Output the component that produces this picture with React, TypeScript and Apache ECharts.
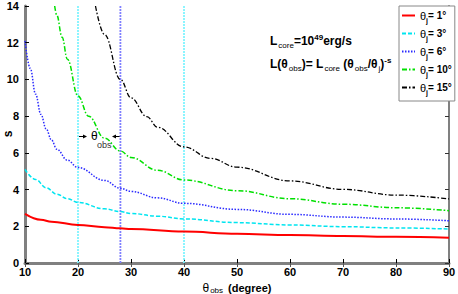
import React, { useEffect, useRef } from 'react';
import * as echarts from 'echarts';

// ---- data ----
const jetAngles = [1, 3, 6, 10, 15];

const redX = [10, 13, 15, 20, 25, 28, 30, 40, 50, 60, 70, 80, 90];
const redY = [2.68, 2.36, 2.25, 2.07, 1.95, 1.89, 1.85, 1.71, 1.59, 1.52, 1.47, 1.43, 1.38];

const cyanX = [10, 12, 14, 16, 18, 20, 25, 28, 30, 35, 40, 50, 60, 70, 80, 90];
const cyanY = [5.1, 4.55, 4.1, 3.75, 3.5, 3.3, 2.95, 2.8, 2.7, 2.55, 2.4, 2.2, 2.07, 1.98, 1.91, 1.85];

const blueX = [10, 11, 12, 13, 14, 15, 16, 18, 20, 25, 28, 30, 35, 40, 50, 60, 70, 80, 90];
const blueY = [12.1, 10.6, 9.2, 8.1, 7.3, 6.7, 6.2, 5.6, 5.2, 4.5, 4.07, 3.9, 3.55, 3.25, 2.92, 2.65, 2.5, 2.4, 2.3];

const greenX = [15.6, 16, 17, 18, 20, 22, 25, 28, 30, 35, 40, 50, 60, 70, 80, 90];
const greenY = [14, 13.5, 12.3, 11.1, 9.1, 8.0, 6.8, 6.1, 5.75, 5.05, 4.52, 3.94, 3.5, 3.2, 3.01, 2.85];

const blackX = [23.3, 25, 28, 30, 33, 35, 40, 45, 50, 60, 70, 80, 90];
const blackY = [14, 12.45, 10.0, 9.0, 7.97, 7.4, 6.33, 5.7, 5.22, 4.47, 4.01, 3.7, 3.49];

const markerLinesX = [20, 28, 40];
const markerColors = ['#80f4ff', '#8080ff', '#80f4ff'];

const yAxisTitle = 's';

const FONT = 'Liberation Sans, Arial, sans-serif';

const zip = (xs: number[], ys: number[]) => xs.map((x, i) => [x, ys[i]]);

const seriesDefs = [
  { x: redX, y: redY, color: '#ff0000', type: 'solid' as any, width: 2 },
  { x: cyanX, y: cyanY, color: '#00e5f0', type: [4, 2] as any, width: 1.5 },
  { x: blueX, y: blueY, color: '#2a2aff', type: [1.5, 1.5] as any, width: 1.5 },
  { x: greenX, y: greenY, color: '#00e000', type: [5, 2, 1.5, 2] as any, width: 1.5 },
  { x: blackX, y: blackY, color: '#000000', type: [5, 2, 1.5, 2] as any, width: 1.3 },
];

export default function App() {
  const ref = useRef<HTMLDivElement>(null);
  useEffect(() => {
    const chart = echarts.init(ref.current!, undefined, { renderer: 'svg' });
    const names = jetAngles.map((a) => `θj= ${a}°`);
    const lineSeries = seriesDefs.map((d, i) => ({
      name: names[i],
      type: 'line',
      data: zip(d.x, d.y),
      showSymbol: false,
      symbol: 'none',
      smooth: 0.4,
      smoothMonotone: 'x',
      lineStyle: { color: d.color, width: d.width, type: d.type },
      itemStyle: { color: d.color },
      z: 3,
    }));
    const vSeries = markerLinesX.map((x, i) => ({
      name: 'v' + i,
      type: 'line',
      data: [[x, 0], [x, 14]],
      showSymbol: false,
      symbol: 'none',
      lineStyle: { color: markerColors[i], width: 1.8, type: [2, 1] },
      z: 2,
      silent: true,
    }));

    const richBase = {
      sub: { fontSize: 8, fontFamily: FONT, padding: [8, 0, 0, 1], fill: '#000' },
      sup: { fontSize: 8, fontFamily: FONT, fontWeight: 'bold', padding: [0, 0, 7, 0] },
    };

    chart.setOption({
      animation: false,
      backgroundColor: '#fff',
      grid: { left: 25, right: 9, top: 6, bottom: 31, containLabel: false, outerBoundsMode: 'none' },
      xAxis: [
        {
          type: 'value', min: 10, max: 90, interval: 10,
          name: '{th|θ}{sub|obs} (degree)',
          nameLocation: 'middle', nameGap: 13,
          nameTextStyle: {
            fontFamily: FONT, fontWeight: 'bold', fontSize: 11, color: '#000',
            rich: {
              th: { fontFamily: FONT, fontSize: 12, fontWeight: 'normal', color: '#000' },
              sub: { fontFamily: FONT, fontSize: 8, fontWeight: 'normal', color: '#000', padding: [6, 2, 0, 1] },
            },
          },
          axisLine: { lineStyle: { color: '#000', width: 2 } },
          axisTick: { inside: true, length: 4, lineStyle: { color: '#000' } },
          axisLabel: { fontFamily: FONT, fontWeight: 'bold', fontSize: 11, color: '#000', margin: 3 },
          splitLine: { show: false },
        },
        {
          type: 'value', min: 10, max: 90, interval: 10, position: 'top',
          axisLine: { lineStyle: { color: '#808080', width: 3 } },
          axisTick: { inside: true, length: 4, lineStyle: { color: '#555' } },
          axisLabel: { show: false },
          splitLine: { show: false },
        },
      ],
      yAxis: [
        {
          type: 'value', min: 0, max: 14, interval: 2,
          axisLine: { lineStyle: { color: '#808080', width: 3 } },
          axisTick: { inside: true, length: 4, lineStyle: { color: '#000' } },
          axisLabel: { fontFamily: FONT, fontWeight: 'bold', fontSize: 11, color: '#000', margin: 6 },
          splitLine: { show: false },
        },
        {
          type: 'value', min: 0, max: 14, interval: 2, position: 'right',
          axisLine: { lineStyle: { color: '#808080', width: 2 } },
          axisTick: { inside: true, length: 4, lineStyle: { color: '#333' } },
          axisLabel: { show: false },
          splitLine: { show: false },
        },
      ],
      legend: {
        data: names,
        orient: 'vertical',
        left: 399,
        top: 6,
        padding: [4, 3, 5, 2],
        itemGap: 4,
        itemWidth: 13,
        itemHeight: 8,
        backgroundColor: '#fff',
        borderColor: '#888',
        borderWidth: 1,
        borderRadius: 0,
        itemStyle: { opacity: 0 },
        textStyle: {
          fontFamily: FONT, fontWeight: 'bold', fontSize: 10, color: '#000',
          rich: {
            th: { fontFamily: FONT, fontSize: 11, fontWeight: 'normal', color: '#000' },
            sub: { fontFamily: FONT, fontSize: 7, fontWeight: 'bold', color: '#000', padding: [10, 0, 0, 0] },
            t: { fontFamily: FONT, fontSize: 10, fontWeight: 'bold', color: '#000' },
          },
        },
        formatter: (n: string) => n.replace('θj= ', '{th|θ}{sub|j}{t|= ') + '}',
      },
      series: [...vSeries, ...lineSeries],
      graphic: [
        {
          type: 'text', x: 8, y: 134, rotation: Math.PI / 2,
          style: {
            text: yAxisTitle, fontFamily: FONT, fontWeight: 'bold', fontSize: 12, fill: '#000',
            align: 'center', verticalAlign: 'middle',
          },
        },
        {
          type: 'text', x: 270, y: 41,
          style: {
            text: 'L{sub|core}=10{sup|49}erg/s',
            fontFamily: FONT, fontWeight: 'bold', fontSize: 12, fill: '#000',
            verticalAlign: 'middle',
            rich: richBase,
          },
        },
        {
          type: 'text', x: 270, y: 64,
          style: {
            text: 'L(θ{sub|obs})= L{sub|core} (θ{sub|obs}/θ{sub|j}){sup|-s}',
            fontFamily: FONT, fontWeight: 'bold', fontSize: 12, fill: '#000',
            verticalAlign: 'middle',
            rich: richBase,
          },
        },
        // θobs annotation with arrows
        { type: 'line', shape: { x1: 79, y1: 136.5, x2: 85, y2: 136.5 }, style: { stroke: '#000', lineWidth: 1 } },
        { type: 'polygon', shape: { points: [[87, 136.5], [83, 134.5], [83, 138.5]] }, style: { fill: '#000' } },
        { type: 'line', shape: { x1: 114, y1: 136.5, x2: 120, y2: 136.5 }, style: { stroke: '#000', lineWidth: 1 } },
        { type: 'polygon', shape: { points: [[112, 136.5], [116, 134.5], [116, 138.5]] }, style: { fill: '#000' } },
        {
          type: 'text', x: 91, y: 136,
          style: { text: 'θ', fontFamily: FONT, fontSize: 12, fill: '#000', verticalAlign: 'middle' },
        },
        {
          type: 'text', x: 97, y: 145,
          style: { text: 'obs', fontFamily: FONT, fontSize: 9, fill: '#333', verticalAlign: 'middle' },
        },
      ],
    });
    return () => chart.dispose();
  }, []);
  return <div ref={ref} style={{ position: 'fixed', left: 0, top: 0, width: 458, height: 294 }} />;
}
